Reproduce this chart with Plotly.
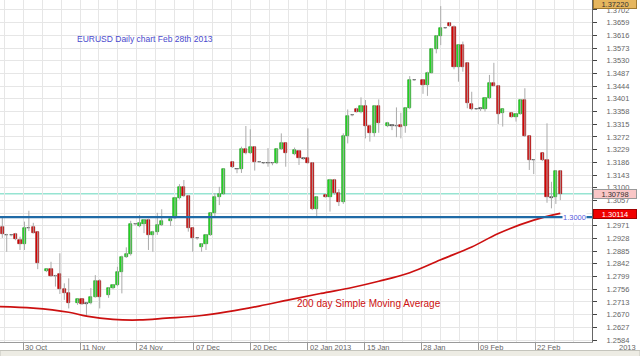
import plotly.graph_objects as go

# ---------------- data ----------------
slot = [-5, -4, -3, -2, -1, 0, 1, 2, 3, 5, 6, 7, 8, 9, 10, 12, 13, 14, 15, 16, 17, 19, 20, 21, 22, 23, 24, 25, 26, 27,
        28, 29, 30, 31, 33, 34, 35, 36, 37, 38, 39, 40, 41, 42, 43, 44, 45, 47, 48, 49, 50, 51, 52, 53, 54, 55, 56, 57,
        58, 59, 61, 62, 63, 64, 65, 66, 68, 69, 70, 71, 72, 73, 74, 75, 76, 77, 78, 79, 80, 82, 83, 84, 85, 86, 87, 88,
        90, 91, 92, 93, 94, 95, 96, 97, 98, 99, 100, 101, 102, 103, 104, 105, 106, 107, 108, 110, 111, 112, 113, 114,
        115, 117, 118, 119, 120, 121]
open_ = [1.2968, 1.2940, 1.2939, 1.2943, 1.2923, 1.2909, 1.2964, 1.2966, 1.2949, 1.2818, 1.2825, 1.2802, 1.2807, 1.2757,
         1.2742, 1.2708, 1.2722, 1.2708, 1.2708, 1.2731, 1.2785, 1.2737, 1.2761, 1.2770, 1.2815, 1.2866, 1.2875, 1.2976,
         1.2970, 1.2976, 1.2991, 1.2940, 1.2951, 1.2974, 1.2987, 1.2996, 1.3064, 1.3101, 1.3072, 1.2962, 1.2929, 1.2900,
         1.2909, 1.2940, 1.3013, 1.3067, 1.3079, 1.3186, 1.3163, 1.3162, 1.3230, 1.3217, 1.3239, 1.3188, 1.3183, 1.3183,
         1.3183, 1.3183, 1.3230, 1.3250, 1.3213, 1.3225, 1.3199, 1.3199, 1.3185, 1.3027, 1.3075, 1.3069, 1.3126, 1.3083,
         1.3053, 1.3275, 1.3346, 1.3366, 1.3358, 1.3377, 1.3309, 1.3286, 1.3377, 1.3309, 1.3312, 1.3310, 1.3312, 1.3309,
         1.3369, 1.3465, 1.3465, 1.3448, 1.3490, 1.3569, 1.3614, 1.3641, 1.3657, 1.3645, 1.3510, 1.3583, 1.3523, 1.3383,
         1.3366, 1.3369, 1.3365, 1.3403, 1.3454, 1.3446, 1.3354, 1.3352, 1.3338, 1.3350, 1.3397, 1.3275, 1.3194, 1.3216,
         1.3194, 1.3067, 1.3067, 1.3158]
high = [1.3002, 1.2944, 1.2942, 1.2947, 1.2934, 1.2985, 1.3022, 1.2981, 1.2951, 1.2826, 1.2849, 1.2805, 1.2878, 1.2776,
        1.2793, 1.2724, 1.2724, 1.2711, 1.2760, 1.2804, 1.2790, 1.2763, 1.2773, 1.2832, 1.2870, 1.2898, 1.2988, 1.2980,
        1.3008, 1.2994, 1.2995, 1.2954, 1.3015, 1.3027, 1.3000, 1.3068, 1.3112, 1.3126, 1.3075, 1.2965, 1.2932, 1.2912,
        1.2942, 1.3016, 1.3082, 1.3103, 1.3165, 1.3190, 1.3165, 1.3239, 1.3309, 1.3298, 1.3241, 1.3190, 1.3185, 1.3234,
        1.3186, 1.3233, 1.3284, 1.3253, 1.3236, 1.3228, 1.3202, 1.3301, 1.3187, 1.3072, 1.3077, 1.3130, 1.3130, 1.3095,
        1.3284, 1.3365, 1.3349, 1.3371, 1.3406, 1.3397, 1.3312, 1.3380, 1.3399, 1.3323, 1.3314, 1.3372, 1.3354, 1.3372,
        1.3478, 1.3467, 1.3467, 1.3493, 1.3572, 1.3617, 1.3715, 1.3643, 1.3661, 1.3650, 1.3585, 1.3595, 1.3525, 1.3425,
        1.3368, 1.3371, 1.3405, 1.3482, 1.3523, 1.3448, 1.3367, 1.3355, 1.3352, 1.3400, 1.3437, 1.3277, 1.3196, 1.3218,
        1.3318, 1.3120, 1.3160, 1.3160]
low = [1.2930, 1.2883, 1.2935, 1.2922, 1.2889, 1.2889, 1.2953, 1.2945, 1.2824, 1.2814, 1.2798, 1.2765, 1.2740, 1.2720,
       1.2691, 1.2703, 1.2703, 1.2665, 1.2705, 1.2728, 1.2691, 1.2727, 1.2756, 1.2766, 1.2742, 1.2862, 1.2870, 1.2972,
       1.2966, 1.2946, 1.2889, 1.2883, 1.2940, 1.2970, 1.2970, 1.2994, 1.3060, 1.3068, 1.2951, 1.2883, 1.2924, 1.2883,
       1.2889, 1.2937, 1.3002, 1.3041, 1.3076, 1.3167, 1.3149, 1.3150, 1.3213, 1.3214, 1.3158, 1.3185, 1.3180, 1.3171,
       1.3176, 1.3180, 1.3228, 1.3171, 1.3210, 1.3177, 1.3195, 1.3182, 1.3024, 1.2999, 1.3067, 1.3019, 1.3076, 1.3038,
       1.3045, 1.3250, 1.3342, 1.3355, 1.3352, 1.3267, 1.3256, 1.3273, 1.3286, 1.3305, 1.3295, 1.3271, 1.3267, 1.3286,
       1.3366, 1.3462, 1.3418, 1.3411, 1.3487, 1.3555, 1.3583, 1.3638, 1.3646, 1.3501, 1.3459, 1.3493, 1.3369, 1.3362,
       1.3363, 1.3360, 1.3358, 1.3400, 1.3444, 1.3316, 1.3307, 1.3338, 1.3324, 1.3348, 1.3272, 1.3160, 1.3146, 1.3190,
       1.3049, 1.3030, 1.3045, 1.3058]
close = [1.2942, 1.2940, 1.2939, 1.2926, 1.2909, 1.2962, 1.2965, 1.2948, 1.2844, 1.2825, 1.2802, 1.2801, 1.2757, 1.2742,
         1.2710, 1.2722, 1.2706, 1.2707, 1.2731, 1.2785, 1.2729, 1.2759, 1.2770, 1.2813, 1.2866, 1.2875, 1.2976, 1.2977,
         1.2979, 1.2991, 1.2940, 1.2951, 1.2974, 1.2988, 1.2995, 1.3064, 1.3101, 1.3072, 1.2962, 1.2928, 1.2928, 1.2909,
         1.2940, 1.3013, 1.3067, 1.3079, 1.3162, 1.3169, 1.3162, 1.3230, 1.3216, 1.3239, 1.3188, 1.3187, 1.3182, 1.3183,
         1.3182, 1.3230, 1.3250, 1.3216, 1.3228, 1.3199, 1.3198, 1.3185, 1.3027, 1.3069, 1.3069, 1.3126, 1.3083, 1.3053,
         1.3275, 1.3343, 1.3345, 1.3358, 1.3377, 1.3309, 1.3286, 1.3377, 1.3320, 1.3320, 1.3310, 1.3309, 1.3307, 1.3369,
         1.3465, 1.3464, 1.3448, 1.3490, 1.3569, 1.3614, 1.3640, 1.3640, 1.3648, 1.3510, 1.3583, 1.3510, 1.3386, 1.3365,
         1.3365, 1.3368, 1.3403, 1.3454, 1.3446, 1.3350, 1.3365, 1.3341, 1.3350, 1.3397, 1.3275, 1.3194, 1.3193, 1.3194,
         1.3067, 1.3066, 1.3158, 1.3080]

ma_slot = [-6, 2, 10, 14, 20, 26, 32, 40, 46, 53, 60, 67, 74, 80, 87, 94, 101, 107, 115, 121]
ma_value = [1.2697, 1.2692, 1.2678, 1.2665, 1.2654, 1.2652, 1.2658, 1.2667, 1.2680, 1.2699, 1.2721, 1.2742, 1.2762,
            1.2783, 1.2812, 1.2856, 1.2899, 1.2945, 1.2990, 1.3013]

date_labels = ["30 Oct", "11 Nov", "24 Nov", "07 Dec", "20 Dec", "02 Jan 2013", "15 Jan", "28 Jan", "09 Feb", "22 Feb"]
y_tick_labels = ["1.3702", "1.3659", "1.3616", "1.3573", "1.3530", "1.3487", "1.3444", "1.3401", "1.3358", "1.3315",
                 "1.3272", "1.3229", "1.3186", "1.3143", "1.3100", "1.3057", "1.3014", "1.2971", "1.2928", "1.2885",
                 "1.2842", "1.2799", "1.2756", "1.2713", "1.2670", "1.2627", "1.2584"]

last_price = 1.30798
ma_last = 1.30114
level_1300 = 1.3000
top_marker = 1.37220

# ---------------- figure ----------------
FONT = "Liberation Sans, Arial, sans-serif"
W, H = 640, 356
ML, MR, MT, MB = 0, 48, 0, 14
PW, PH = W - ML - MR, H - MT - MB

fig = go.Figure()

# wicks
wx, wy = [], []
for s, h, l in zip(slot, high, low):
    wx += [s, s, None]
    wy += [l, h, None]
fig.add_trace(go.Scatter(x=wx, y=wy, mode="lines", line=dict(color="#ababab", width=1),
                         hoverinfo="skip", showlegend=False))

# bodies
base, height, fill, edge = [], [], [], []
for o, c in zip(open_, close):
    base.append(min(o, c))
    height.append(max(abs(c - o), 0.00004))
    if abs(c - o) < 0.00025:
        fill.append("#555555"); edge.append("#333333")
    elif c > o:
        fill.append("#22e022"); edge.append("#0c8c0c")
    else:
        fill.append("#e00000"); edge.append("#8a0000")
fig.add_trace(go.Bar(x=slot, y=height, base=base, width=0.72,
                     marker=dict(color=fill, line=dict(color=edge, width=0.6)),
                     hoverinfo="skip", showlegend=False))

# 200 day SMA
fig.add_trace(go.Scatter(x=ma_slot, y=ma_value, mode="lines",
                         line=dict(color="#cc1010", width=1.7, shape="spline", smoothing=1),
                         hoverinfo="skip", showlegend=False))

# horizontal level lines
shapes = [
    dict(type="line", xref="paper", x0=0, x1=1, yref="y", y0=last_price, y1=last_price,
         line=dict(color="#96e4d2", width=1.5), layer="below"),
    dict(type="line", xref="paper", x0=0, x1=1, yref="y", y0=level_1300, y1=level_1300,
         line=dict(color="#1f6aa6", width=2.2), layer="above"),
    # bottom strip separator + beige band
    dict(type="rect", xref="paper", x0=0, x1=W / PW, yref="paper", y0=-8.5 / PH, y1=-14.5 / PH,
         fillcolor="#edece4", line=dict(color="#c4c4bc", width=1)),
]

x0_px = 24.44
px_per_slot = 4.4286
x_min = (0 - x0_px) / px_per_slot
x_max = (PW - x0_px) / px_per_slot
tick_step = 12.85
tick_pos = [-0.3 + tick_step * i for i in range(len(date_labels))]
minor_pos = [-0.3 + tick_step / 3 * k for k in range(-2, 32)]

y_top = 1.37358
y_bot = 1.25773
y_tick_vals = [float(t) for t in y_tick_labels]

ann = []
for p, lab in zip(tick_pos, date_labels):
    ann.append(dict(x=p, xref="x", y=0, yref="paper", text=lab, showarrow=False,
                    xanchor="left", yanchor="top", xshift=0, yshift=1,
                    font=dict(family=FONT, size=7.5, color="#666666")))
ann.append(dict(x=W / PW - 0.004, xref="paper", y=0, yref="paper", text="2013", showarrow=False,
                xanchor="right", yanchor="top", yshift=1, font=dict(family=FONT, size=7.5, color="#666666")))
ann.append(dict(x=75 / PW, xref="paper", y=1 - 39.5 / PH, yref="paper",
                text="EURUSD Daily chart Feb 28th 2013", showarrow=False, xanchor="left", yanchor="middle",
                font=dict(family=FONT, size=8.5, color="#4a4acd")))
ann.append(dict(x=295 / PW, xref="paper", y=1 - 303 / PH, yref="paper",
                text="200 day Simple Moving Average", showarrow=False, xanchor="left", yanchor="middle",
                font=dict(family=FONT, size=10, color="#cc1010")))
ann.append(dict(x=587 / PW, xref="paper", y=level_1300, yref="y", text="1.3000", showarrow=False,
                xanchor="right", yanchor="middle", bgcolor="#ffffff", borderpad=0,
                font=dict(family=FONT, size=7.5, color="#5a5adc")))
# right-axis price boxes
for val, txt, bg, fg, bd in [
    (top_marker, "1.37220", "#e6b65e", "#333333", "#a07a30"),
    (last_price, "1.30798", "#f9c6c6", "#333333", "#999999"),
    (ma_last, "1.30114", "#f00000", "#ffffff", "#a00000"),
]:
    ann.append(dict(x=1, xref="paper", y=val, yref="y", text=txt, showarrow=False,
                    xanchor="left", yanchor="middle", xshift=1, width=42, height=8, align="center",
                    bgcolor=bg, bordercolor=bd, borderwidth=1, borderpad=0,
                    font=dict(family=FONT, size=7.5, color=fg)))

fig.update_layout(
    width=W, height=H, margin=dict(l=ML, r=MR, t=MT, b=MB),
    paper_bgcolor="#ffffff", plot_bgcolor="#ffffff",
    barmode="overlay", bargap=0, showlegend=False,
    shapes=shapes, annotations=ann,
    xaxis=dict(range=[x_min, x_max], tickmode="array", tickvals=tick_pos, showticklabels=False,
               ticks="outside", ticklen=8, tickcolor="#999999", tickwidth=1,
               showgrid=True, gridcolor="#e6e6e6", gridwidth=1, zeroline=False,
               showline=True, linecolor="#9a9a9a", linewidth=1,
               minor=dict(tickmode="array", tickvals=minor_pos, showgrid=True, gridcolor="#e6e6e6", ticks="")),
    yaxis=dict(range=[y_bot, y_top], side="right", tickmode="array", tickvals=y_tick_vals, ticktext=y_tick_labels,
               ticks="outside", ticklen=4, tickcolor="#444444", ticklabelstandoff=8,
               tickfont=dict(family=FONT, size=7.5, color="#666666"),
               showgrid=True, gridcolor="#e6e6e6", gridwidth=1, zeroline=False,
               showline=True, linecolor="#666666", linewidth=1),
)

fig.write_html("out.html")
